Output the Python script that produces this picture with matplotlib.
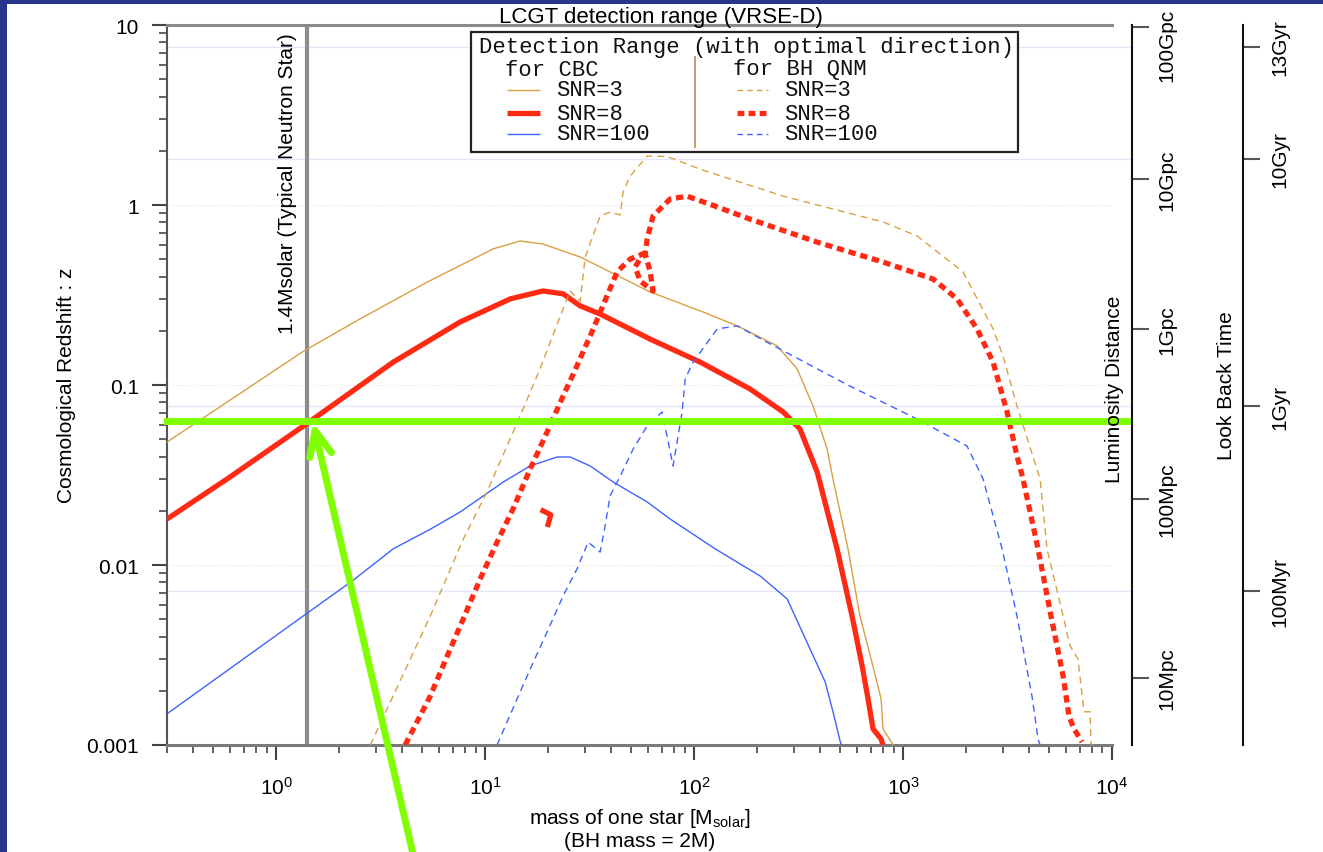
import matplotlib
matplotlib.use('Agg')
import matplotlib.pyplot as plt
import matplotlib.ticker as mticker
from matplotlib.patches import Rectangle
from matplotlib.lines import Line2D

plt.rcParams['font.family'] = ['Liberation Sans', 'DejaVu Sans']
plt.rcParams['mathtext.default'] = 'regular'

# ---------------- data: mass of one star [Msolar] vs redshift z ----------------
cbc3_m = [0.3, 0.583, 1.35, 2.52, 5.28, 10.9, 14.7, 18.9, 28.5, 61.5, 107, 161, 250, 311,
          371, 433, 462, 545, 622, 703, 785, 802, 896]
cbc3_z = [0.0482, 0.0805, 0.154, 0.233, 0.373, 0.570, 0.631, 0.607, 0.514, 0.329, 0.258,
          0.213, 0.165, 0.123, 0.0764, 0.0441, 0.0301, 0.0123, 0.00521, 0.00301, 0.0018,
          0.00123, 0.001]

cbc8_m = [0.3, 0.583, 1.35, 3.63, 7.59, 13.2, 18.9, 23.6, 28.5, 35.5, 61.5, 107, 185, 267,
          321, 388, 483, 570, 637, 680, 718, 785, 802]
cbc8_z = [0.018, 0.0301, 0.0592, 0.134, 0.224, 0.301, 0.333, 0.321, 0.275, 0.248, 0.180,
          0.134, 0.0951, 0.0708, 0.057, 0.0329, 0.0123, 0.00521, 0.00275, 0.0018, 0.00123,
          0.00108, 0.001]

cbc100_m = [0.3, 1.39, 2.31, 3.63, 5.46, 7.59, 12.2, 16.4, 22.1, 25.5, 31.8, 41.0, 59.6,
            76.8, 95.7, 126, 207, 279, 359, 424, 462, 505]
cbc100_z = [0.00149, 0.00535, 0.00815, 0.0123, 0.0158, 0.0197, 0.0289, 0.0355, 0.0398,
            0.0398, 0.0355, 0.0289, 0.0224, 0.018, 0.0152, 0.0123, 0.00869, 0.00647,
            0.00341, 0.00224, 0.00153, 0.001]

qnm3_m = [2.82, 5.46, 7.85, 10.2, 13.6, 15.9, 18.3, 22.8, 25.5, 28.5, 30.1, 35.5, 39.6,
          44.3, 45.7, 49.4, 59.6, 74.3, 107, 267, 802, 1167, 1936, 2697, 3008, 3510, 4525,
          4888, 5834, 6300, 6873, 7345, 7852, 7943]
qnm3_z = [0.001, 0.00521, 0.0139, 0.0255, 0.0548, 0.0836, 0.123, 0.239, 0.333, 0.293,
          0.514, 0.869, 0.914, 0.880, 1.18, 1.45, 1.87, 1.86, 1.58, 1.12, 0.805, 0.673,
          0.425, 0.205, 0.145, 0.0764, 0.0301, 0.0123, 0.00521, 0.00355, 0.00301, 0.00153,
          0.00153, 0.001]

qnm8_m = [4.14, 5.46, 6.58, 7.85, 9.46, 11.4, 13.6, 16.4, 19.8, 23.6, 26.4, 32.9, 42.8,
          49.4, 57.0, 52.2, 55.2, 63.6, 61.5, 58.3, 59.6, 63.6, 76.8, 92.6, 119, 185, 388,
          802, 1392, 1813, 2259, 2697, 3147, 3510, 3750, 4426, 5105, 5834, 6224, 6577, 7185]
qnm8_z = [0.001, 0.00187, 0.00312, 0.00501, 0.00836, 0.0134, 0.0205, 0.0341, 0.0548,
          0.0869, 0.115, 0.205, 0.425, 0.501, 0.535, 0.453, 0.378, 0.333, 0.430, 0.535,
          0.648, 0.869, 1.08, 1.12, 1.01, 0.835, 0.622, 0.482, 0.388, 0.301, 0.205, 0.134,
          0.0708, 0.0403, 0.0301, 0.0123, 0.00521, 0.00242, 0.00145, 0.00123, 0.00104]
qnm8_blob_m = [18.9, 20.6, 20.0]
qnm8_blob_z = [0.0200, 0.0190, 0.0168]

qnm100_m = [11.4, 14.2, 17.0, 19.8, 23.6, 27.5, 31.1, 35.5, 37.5, 39.6, 44.3, 51.1, 59.6,
            70.3, 79.3, 87.6, 90.6, 98.9, 129, 161, 223, 388, 557, 1167, 2023, 2415, 2978,
            3510, 4140, 4426, 4525]
qnm100_z = [0.001, 0.0018, 0.00289, 0.00425, 0.00673, 0.0095, 0.0134, 0.0118, 0.0165,
            0.0242, 0.0312, 0.0441, 0.0592, 0.0708, 0.0355, 0.0708, 0.108, 0.134, 0.205,
            0.213, 0.173, 0.123, 0.0986, 0.0647, 0.0458, 0.0301, 0.0123, 0.00521, 0.00187,
            0.00108, 0.001]

ns_mass = 1.4
z_ns_snr8 = 0.063

lum_z = [9.7, 1.39, 0.205, 0.0233, 0.00236]
lum_labels = ['100Gpc', '10Gpc', '1Gpc', '100Mpc', '10Mpc']
lbt_z = [7.55, 1.80, 0.0764, 0.00717]
lbt_labels = ['13Gyr', '10Gyr', '1Gyr', '100Myr']

# ---------------- styles ----------------
ORANGE = '#D9A043'
RED = '#FF2A14'
BLUE = '#4062FF'
GREEN = '#80FF00'
W, H = 1323, 853


def fx(px):
    return px / W


def fy(py):
    return 1 - py / H


fig = plt.figure(figsize=(W / 100, H / 100), dpi=100)
fig.patch.set_facecolor('#27358A')
fig.add_artist(Rectangle((fx(7), 0), 1 - fx(7), fy(5), transform=fig.transFigure,
                         facecolor='white', edgecolor='none', zorder=-5))

ax = fig.add_axes([fx(167), fy(746), fx(1112) - fx(167), fy(26) - fy(746)])
ax.patch.set_alpha(0)
ax.set_xscale('log')
ax.set_yscale('log')
ax.set_xlim(0.3, 1e4)
ax.set_ylim(1e-3, 10)

ax.spines['right'].set_visible(False)
ax.spines['top'].set_color('#8a8a8a')
ax.spines['top'].set_linewidth(2.2)
ax.spines['left'].set_color('#555555')
ax.spines['left'].set_linewidth(1.5)
ax.spines['bottom'].set_color('#7a7a7a')
ax.spines['bottom'].set_linewidth(2.2)

ax.xaxis.set_major_locator(mticker.LogLocator(base=10, numticks=10))
ax.xaxis.set_minor_locator(mticker.LogLocator(base=10, subs=range(2, 10), numticks=20))
ax.xaxis.set_minor_formatter(mticker.NullFormatter())
ax.yaxis.set_major_locator(mticker.LogLocator(base=10, numticks=10))
ax.yaxis.set_minor_locator(mticker.LogLocator(base=10, subs=range(2, 10), numticks=20))
ax.yaxis.set_major_formatter(mticker.FuncFormatter(lambda v, _: f'{v:g}'))
ax.yaxis.set_minor_formatter(mticker.NullFormatter())
ax.tick_params(which='major', direction='out', length=11, width=1.5, color='#444444',
               labelsize=15, pad=9, top=False, right=False)
ax.tick_params(which='minor', direction='out', length=6, width=1.3, color='#555555',
               top=False, right=False)
ax.tick_params(axis='x', which='major', pad=11)

# faint grid lines
for z in [0.01, 0.1, 1]:
    ax.axhline(z, color='#E4E4E4', lw=0.8, ls=':', zorder=0)
for z in lbt_z:
    ax.axhline(z, color='#E6E6FA', lw=1.0, zorder=0, xmax=1.021, clip_on=False)

# neutron star line
ax.axvline(ns_mass, color='#8c8c8c', lw=3, zorder=2)
ax.annotate('1.4Msolar (Typical Neutron Star)', xy=(ns_mass, 1), xycoords=('data', 'axes fraction'),
            xytext=(-7, -5), textcoords='offset points', rotation=90, ha='right', va='top',
            fontsize=15)

# curves
ax.plot(cbc3_m, cbc3_z, color=ORANGE, lw=1.0, zorder=3)
ax.plot(cbc8_m, cbc8_z, color=RED, lw=3.8, zorder=3, solid_capstyle='butt')
ax.plot(cbc100_m, cbc100_z, color=BLUE, lw=1.0, zorder=3)
ax.plot(qnm3_m, qnm3_z, color=ORANGE, lw=1.0, ls=(0, (5, 3.5)), zorder=3)
ax.plot(qnm8_m, qnm8_z, color=RED, lw=3.8, ls=(0, (1.4, 0.9)), zorder=3)
ax.plot(qnm8_blob_m, qnm8_blob_z, color=RED, lw=3.8, zorder=3)
ax.plot(qnm100_m, qnm100_z, color=BLUE, lw=1.0, ls=(0, (5, 3.5)), zorder=3)

# title above the frame
ax.text((661 - 167) / (1112 - 167), 1.0125, 'LCGT detection range (VRSE-D)',
        transform=ax.transAxes, ha='center', va='center', fontsize=16)

# axis labels
fig.text(fx(66), fy(385), 'Cosmological Redshift : z', rotation=90, ha='center', va='center',
         fontsize=15)
fig.text(fx(639.5), fy(829), 'mass of one star [M$_{solar}$]\n(BH mass = 2M)', ha='center',
         va='center', fontsize=15, linespacing=1.15)


# secondary scales: luminosity distance and look back time
def side_scale(x_px, zs, labels, label_dx, first_dy):
    a = fig.add_axes([fx(x_px - 10), fy(746), 10 / W, fy(26) - fy(746)])
    a.patch.set_visible(False)
    a.set_yscale('log')
    a.set_ylim(1e-3, 10)
    for s in ['left', 'top', 'bottom']:
        a.spines[s].set_visible(False)
    a.spines['right'].set_linewidth(1.5)
    a.spines['right'].set_color('#111111')
    a.set_xticks([])
    a.yaxis.tick_right()
    a.set_yticks(zs)
    a.yaxis.set_minor_locator(mticker.NullLocator())
    a.tick_params(axis='y', direction='out', length=12, width=1.5, color='#555555',
                  labelright=False)
    for i, (z, lab) in enumerate(zip(zs, labels)):
        dy = first_dy if i == 0 else 0
        a.annotate(lab, xy=(1, z), xycoords=('axes fraction', 'data'), xytext=(label_dx, dy),
                   textcoords='offset points', rotation=90, ha='center', va='center',
                   fontsize=15)
    return a


side_scale(1132, lum_z, lum_labels, 25, -12)
side_scale(1243, lbt_z, lbt_labels, 26.5, 0)
fig.text(fx(1114), fy(389), 'Luminosity Distance', rotation=90, ha='center', va='center',
         fontsize=15)
fig.text(fx(1227), fy(386), 'Look Back Time', rotation=90, ha='center', va='center',
         fontsize=15)

# legend box (drawn by hand, monospace as in the source)
fig.add_artist(Rectangle((fx(471), fy(153)), fx(1018) - fx(471), fy(33) - fy(153),
                         transform=fig.transFigure, facecolor='white', edgecolor='#222222',
                         lw=1.6, zorder=6))
mono = dict(family=['Liberation Mono', 'DejaVu Sans Mono'], fontsize=16, color='#111111',
            va='center', zorder=7)
fig.text(fx(479), fy(48), 'Detection Range (with optimal direction)', **mono)
fig.text(fx(505), fy(70), 'for CBC', **mono)
fig.text(fx(733), fy(70), 'for BH QNM', **mono)
fig.add_artist(Line2D([fx(695), fx(695)], [fy(58), fy(148)], transform=fig.transFigure,
                      color='#B98A55', lw=1.2, zorder=7))
rows = [('SNR=3', ORANGE, 1.0, (0, (4, 3))),
        ('SNR=8', RED, 3.8, (0, (1.3, 0.8))),
        ('SNR=100', BLUE, 1.0, (0, (4, 3)))]
row_y = [91, 114, 135]
for (lab, col, lw, dash), yy in zip(rows, row_y):
    fig.add_artist(Line2D([fx(507), fx(540)], [fy(yy), fy(yy)], transform=fig.transFigure,
                          color=col, lw=lw, zorder=7, solid_capstyle='butt'))
    fig.text(fx(556), fy(yy), lab, **mono)
    fig.add_artist(Line2D([fx(737), fx(768)], [fy(yy), fy(yy)], transform=fig.transFigure,
                          color=col, lw=lw, ls=dash, zorder=7))
    fig.text(fx(784), fy(yy), lab, **mono)

# green highlight: NS-NS range at SNR=8
ax.axhline(z_ns_snr8, xmin=0, xmax=1.017, color=GREEN, lw=5, zorder=8, clip_on=False)
ax.annotate('', xy=(1.5, 0.062), xycoords='data', xytext=(413, -2), textcoords='figure pixels',
            arrowprops=dict(arrowstyle='->,head_length=0.9,head_width=0.4', lw=5,
                            color=GREEN, shrinkA=0, shrinkB=0, mutation_scale=20),
            zorder=8, annotation_clip=False)

fig.savefig('out.png', dpi=100, facecolor=fig.get_facecolor())
